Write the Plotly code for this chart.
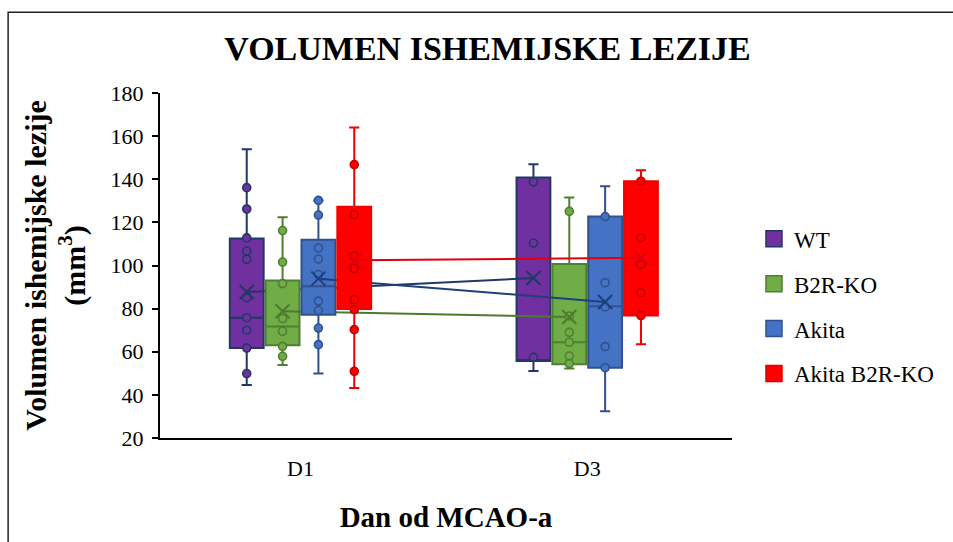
import plotly.graph_objects as go

# ---------------- data ----------------
days = ["D1", "D3"]
series = ["WT", "B2R-KO", "Akita", "Akita B2R-KO"]

q1 = {"WT": [61.7, 55.7], "B2R-KO": [63.0, 54.2], "Akita": [77.2, 52.6], "Akita B2R-KO": [79.8, 76.8]}
median = {"WT": [75.8, 55.7], "B2R-KO": [71.7, 64.4], "Akita": [90.4, 81.1], "Akita B2R-KO": [98.6, 100.4]}
q3 = {"WT": [112.5, 140.8], "B2R-KO": [93.0, 100.7], "Akita": [112.0, 122.7], "Akita B2R-KO": [127.3, 139.1]}
lowerfence = {"WT": [44.6, 51.1], "B2R-KO": [53.9, 52.2], "Akita": [49.9, 32.4], "Akita B2R-KO": [43.2, 63.5]}
upperfence = {"WT": [153.9, 146.9], "B2R-KO": [122.4, 131.5], "Akita": [130.2, 136.7], "Akita B2R-KO": [164.0, 144.2]}
means = {"WT": [87.7, 94.2], "B2R-KO": [78.8, 76.1], "Akita": [93.9, 83.1], "Akita B2R-KO": [102.4, 103.6]}

points_d1 = {
    "WT": [136.1, 126.2, 112.8, 106.7, 102.9, 85.1, 75.8, 70.0, 61.7, 49.9],
    "B2R-KO": [116.2, 101.6, 91.6, 75.4, 69.5, 62.5, 57.9],
    "Akita": [130.2, 123.4, 108.1, 103.0, 95.8, 83.5, 79.1, 71.0, 63.3],
    "Akita B2R-KO": [146.8, 123.6, 104.4, 98.6, 84.2, 79.6, 70.3, 50.9],
}
points_d3 = {
    "WT": [138.8, 110.4, 57.4],
    "B2R-KO": [125.1, 76.6, 69.0, 64.4, 58.0, 54.5],
    "Akita": [122.7, 92.0, 80.8, 62.4, 52.6],
    "Akita B2R-KO": [139.1, 112.9, 100.4, 87.4, 76.8],
}

y_ticks = [20, 40, 60, 80, 100, 120, 140, 160, 180]

# ---------------- styles ----------------
fill = {"WT": "#7030A0", "B2R-KO": "#70AD47", "Akita": "#4472C4", "Akita B2R-KO": "#FF0000"}
edge = {"WT": "#203864", "B2R-KO": "#507E32", "Akita": "#2F528F", "Akita B2R-KO": "#F00000"}
meanline = {"WT": "#1F3864", "B2R-KO": "#4E7A2E", "Akita": "#203F7A", "Akita B2R-KO": "#E00010"}
ptedge = {"WT": "#203864", "B2R-KO": "#507E32", "Akita": "#2F528F", "Akita B2R-KO": "#C00000"}

FONT = "Liberation Serif, Times New Roman, serif"
step = 0.125
box_w = 0.118

fig = go.Figure()
for k, s in enumerate(series):
    yax = "y" if k == 0 else f"y{k + 1}"
    off = (k - 1.5) * step
    xs = [i + off for i in range(len(days))]
    # boxes
    fig.add_trace(go.Box(
        x=xs, q1=q1[s], median=median[s], q3=q3[s],
        lowerfence=lowerfence[s], upperfence=upperfence[s],
        width=box_w, whiskerwidth=0.3, boxpoints=False,
        fillcolor=fill[s], line=dict(color=edge[s], width=2),
        yaxis=yax, showlegend=False, hoverinfo="skip",
    ))
    # mean line
    fig.add_trace(go.Scatter(
        x=xs, y=means[s], mode="lines", yaxis=yax,
        line=dict(color=meanline[s], width=2), showlegend=False, hoverinfo="skip",
    ))
    # points
    px, py = [], []
    for i, pts in enumerate([points_d1[s], points_d3[s]]):
        px += [xs[i]] * len(pts)
        py += pts
    fig.add_trace(go.Scatter(
        x=px, y=py, mode="markers", yaxis=yax, showlegend=False,
        marker=dict(symbol="circle", size=8, color=fill[s],
                    line=dict(color=ptedge[s], width=1.6)),
    ))
    # mean markers
    fig.add_trace(go.Scatter(
        x=xs, y=means[s], mode="markers", yaxis=yax, showlegend=False,
        marker=dict(symbol="x-thin", size=14, color=meanline[s],
                    line=dict(color=meanline[s], width=2)),
    ))
    # legend swatch
    fig.add_trace(go.Scatter(
        x=[None], y=[None], mode="markers", name=s, legendgroup=s,
        marker=dict(symbol="square", size=18, color=fill[s],
                    line=dict(color=edge[s] if s != "Akita B2R-KO" else "#E00000", width=1.5)),
    ))

L, R, T, B = 159.5, 732, 92.7, 437.7
W, H = 953, 542

yaxis_common = dict(range=[20, 180], fixedrange=True)
layout_axes = {}
for k in range(1, len(series)):
    layout_axes[f"yaxis{k + 1}"] = dict(overlaying="y", visible=False, **yaxis_common)

fig.update_layout(
    width=W, height=H,
    margin=dict(l=L, r=W - R, t=T, b=H - B, autoexpand=False),
    paper_bgcolor="white", plot_bgcolor="white",
    boxmode="overlay",
    font=dict(family=FONT, color="black", size=22),
    title=dict(text="<b>VOLUMEN ISHEMIJSKE LEZIJE</b>", x=487.5 / W, xanchor="center",
               y=1 - 48 / H, yanchor="middle", font=dict(size=34, family=FONT, color="black")),
    xaxis=dict(range=[-0.49, 1.505], tickmode="array", tickvals=list(range(len(days))),
               ticktext=days, showline=True, linecolor="black", linewidth=2,
               ticks="", showgrid=False, zeroline=False, ticklabelstandoff=10,
               tickfont=dict(size=22, family=FONT), fixedrange=True,
               title=dict(text="<b>Dan od MCAO-a</b>", standoff=26,
                          font=dict(size=29, family=FONT))),
    yaxis=dict(tickvals=y_ticks, showline=True, linecolor="black", linewidth=2,
               ticks="outside", ticklen=6, tickwidth=2, tickcolor="black",
               showgrid=False, zeroline=False, ticklabelstandoff=4,
               tickfont=dict(size=22, family=FONT),
               title=dict(text="<b>Volumen ishemijske lezije<br>(mm<sup>3</sup>)</b>",
                          standoff=16, font=dict(size=30, family=FONT)),
               **yaxis_common),
    legend=dict(x=(754 - L) / (R - L), xanchor="left", y=(B - 217) / (B - T), yanchor="top",
                font=dict(size=23, family=FONT), tracegroupgap=12, bgcolor="rgba(0,0,0,0)"),
    shapes=[dict(type="rect", xref="paper", yref="paper",
                 x0=(7.5 - L) / (R - L), x1=1.8, y0=(B - 12) / (B - T), y1=-0.6,
                 line=dict(color="#222222", width=1.5), layer="below")],
    **layout_axes,
)

fig.write_html("out.html", config={"displayModeBar": False},
               post_script="document.body.style.margin='0';")
